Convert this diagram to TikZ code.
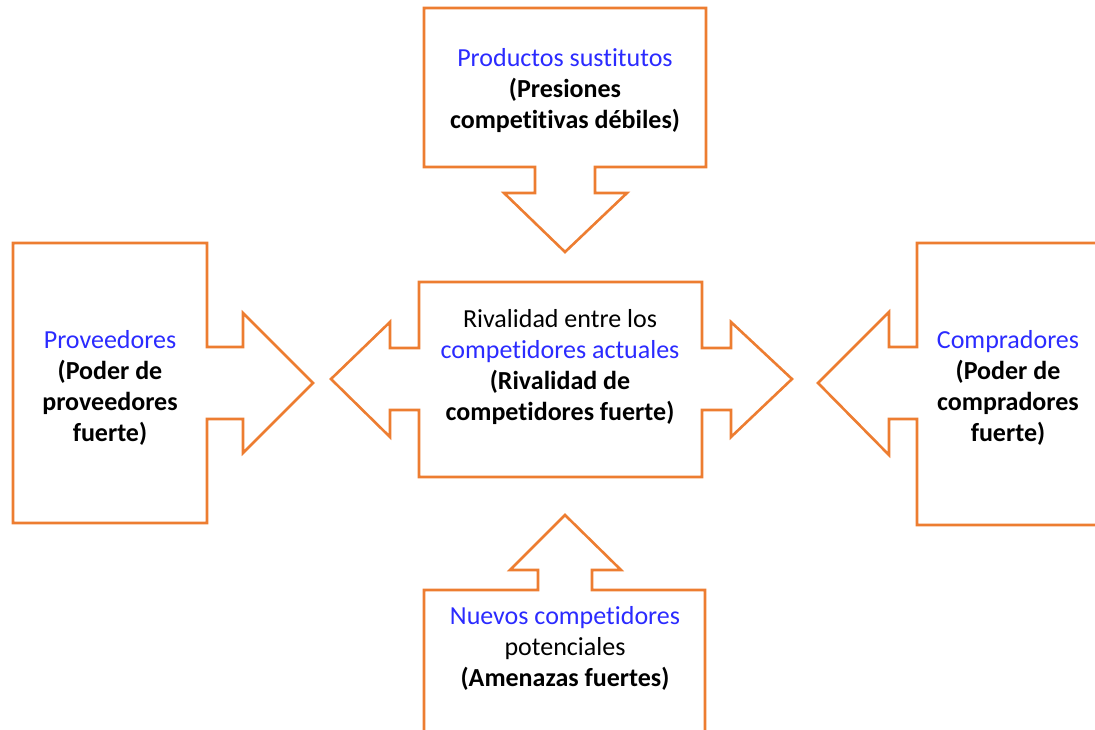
\documentclass[tikz,border=0pt]{standalone}
\usepackage{fontspec}
\setmainfont{Carlito}[Ligatures=NoCommon]
\definecolor{calloutorange}{HTML}{ED7D31}
\definecolor{forceblue}{HTML}{2B2BFF}
\begin{document}
\begin{tikzpicture}[x=1pt,y=-1pt,
  callout/.style={draw=calloutorange, line width=2.6pt, line join=miter, fill=white},
  forcetext/.style={align=center, font=\fontsize{26}{31}\selectfont, text=black, inner sep=0pt}]
\useasboundingbox (0,0) rectangle (1095,729);
\clip (0,0) rectangle (1095,729);

% Substitute products: box with arrow pointing down
\draw[callout] (424,8) -- (706,8) -- (706,167) -- (595,167) -- (595,193) -- (627,193)
  -- (565,252) -- (504,193) -- (535,193) -- (535,167) -- (424,167) -- cycle;

% Suppliers: box with arrow pointing right
\draw[callout] (13,243) -- (207,243) -- (207,347) -- (243,347) -- (243,313) -- (313,383)
  -- (243,453) -- (243,419) -- (207,419) -- (207,523) -- (13,523) -- cycle;

% Current rivalry: box with arrows on both sides
\draw[callout] (419,282) -- (702,282) -- (702,348) -- (731,348) -- (731,322) -- (792,379)
  -- (731,437) -- (731,410) -- (702,410) -- (702,477) -- (419,477) -- (419,410)
  -- (390,410) -- (390,437) -- (331,379) -- (390,322) -- (390,348) -- (419,348) -- cycle;

% Buyers: box with arrow pointing left
\draw[callout] (1100,243) -- (917,243) -- (917,347) -- (889,347) -- (889,312) -- (818,383)
  -- (889,455) -- (889,419) -- (917,419) -- (917,525) -- (1100,525);

% New entrants: box with arrow pointing up
\draw[callout] (424,740) -- (424,590) -- (538,590) -- (538,570) -- (510,570) -- (565,515)
  -- (621,570) -- (592,570) -- (592,590) -- (705,590) -- (705,740);

\node[forcetext] (sustitutos) at (565,91)
  {{\color{forceblue}Productos sustitutos}\\\textbf{(Presiones}\\\textbf{competitivas débiles)}};
\node[forcetext] (proveedores) at (110,388)
  {{\color{forceblue}Proveedores}\\\textbf{(Poder de}\\\textbf{proveedores}\\\textbf{fuerte)}};
\node[forcetext] (rivalidad) at (560,367)
  {Rivalidad entre los\\{\color{forceblue}competidores actuales}\\\textbf{(Rivalidad de}\\\textbf{competidores fuerte)}};
\node[forcetext] (compradores) at (1008,388)
  {{\color{forceblue}Compradores}\\\textbf{(Poder de}\\\textbf{compradores}\\\textbf{fuerte)}};
\node[forcetext] (entrantes) at (565,648)
  {{\color{forceblue}Nuevos competidores}\\potenciales\\\textbf{(Amenazas fuertes)}};
\end{tikzpicture}
\end{document}
